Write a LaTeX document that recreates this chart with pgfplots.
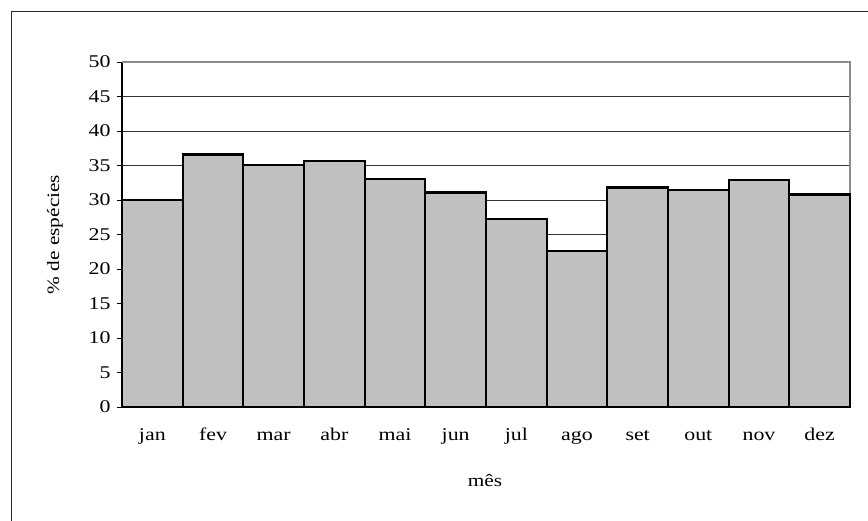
\documentclass[border=0pt]{standalone}
\usepackage{pgfplots}
\pgfplotsset{compat=1.18}
\usepackage{fontspec}
\setmainfont[FakeStretch=1.22]{Liberation Serif}

\definecolor{barfill}{HTML}{C0C0C0}

\begin{document}
\begin{tikzpicture}
\useasboundingbox (0bp,0bp) rectangle (868bp,521bp);
% outer chart frame (cut off at right and bottom)
\draw[line width=1bp, black!85] (11bp,-5bp) -- (11bp,509bp) -- (875bp,509bp);

\begin{axis}[
  at={(122bp,114bp)}, anchor=south west,
  width=728bp, height=345bp, scale only axis,
  xmin=-0.5, xmax=11.5,
  ymin=0, ymax=50,
  axis x line=bottom, axis y line=left,
  axis line style={-, line width=2bp, black},
  ytick={0,5,...,50},
  xtick={0,...,11},
  xticklabels={jan,fev,mar,abr,mai,jun,jul,ago,set,out,nov,dez},
  x tick style={draw=none},
  extra x ticks={-0.5,0.5,...,11.5},
  extra x tick labels={},
  extra x tick style={grid=none, tick style={draw=black, line width=0.8bp}},
  tick align=outside,
  major tick length=5bp,
  y tick style={line width=0.8bp, black},
  ymajorgrids,
  major grid style={line width=0.9bp, black!80},
  tick label style={font=\fontsize{18}{20}\selectfont},
  /pgf/number format/assume math mode=true,
  yticklabel style={xshift=-3bp},
  xticklabel style={text height=1.6ex, text depth=0.3ex, yshift=-18bp},
  clip=false,
]
\draw[line width=1.2bp, black!45] (rel axis cs:0,1) -- (rel axis cs:1,1) -- (rel axis cs:1,0);
\addplot[ybar, bar width=1, fill=barfill, draw=black, line width=2.2bp]
  coordinates {(0,30.0) (1,36.6) (2,35.1) (3,35.6) (4,33.0) (5,31.1)
               (6,27.2) (7,22.6) (8,31.8) (9,31.4) (10,32.9) (11,30.8)};
\end{axis}

\node[rotate=90, font=\fontsize{17.5}{20}\selectfont] at (55bp,286.5bp) {\% de espécies};
\node[font=\fontsize{17.5}{20}\selectfont] at (485bp,40bp) {mês};
\end{tikzpicture}
\end{document}
